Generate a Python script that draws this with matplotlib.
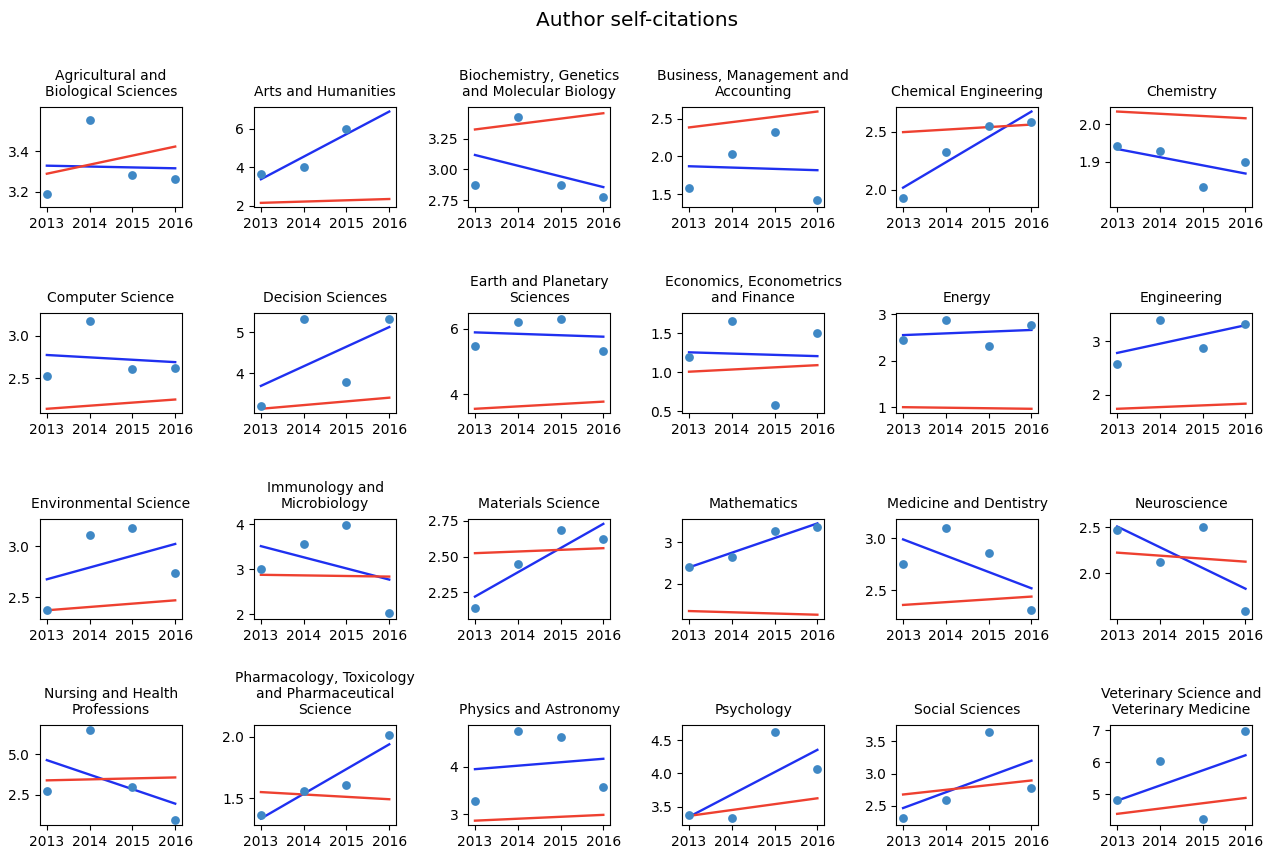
import numpy as np
import matplotlib
matplotlib.use("Agg")
import matplotlib.pyplot as plt

years = [2013, 2014, 2015, 2016]

titles = [
    "Agricultural and\nBiological Sciences", "Arts and Humanities",
    "Biochemistry, Genetics\nand Molecular Biology", "Business, Management and\nAccounting",
    "Chemical Engineering", "Chemistry",
    "Computer Science", "Decision Sciences", "Earth and Planetary\nSciences",
    "Economics, Econometrics\nand Finance", "Energy", "Engineering",
    "Environmental Science", "Immunology and\nMicrobiology", "Materials Science",
    "Mathematics", "Medicine and Dentistry", "Neuroscience",
    "Nursing and Health\nProfessions", "Pharmacology, Toxicology\nand Pharmaceutical\nScience",
    "Physics and Astronomy", "Psychology", "Social Sciences",
    "Veterinary Science and\nVeterinary Medicine",
]

# observed values per field (2013..2016); NaN = missing
values = [
    [3.19, 3.553, 3.285, 3.265],
    [3.66, 4.00, 6.00, np.nan],
    [2.877, 3.427, 2.872, 2.772],
    [1.585, 2.034, 2.330, 1.428],
    [1.932, 2.322, 2.549, 2.584],
    [1.941, 1.929, 1.833, 1.900],
    [2.523, 3.174, 2.61, 2.617],
    [3.22, 5.315, 3.795, 5.315],
    [5.49, 6.21, 6.31, 5.31],
    [1.193, 1.66, 0.576, 1.50],
    [2.457, 2.89, 2.32, 2.77],
    [2.57, 3.406, 2.885, 3.32],
    [2.372, 3.113, 3.183, 2.735],
    [3.00, 3.567, 3.98, 2.035],
    [2.136, 2.45, 2.689, 2.623],
    [2.41, 2.64, 3.283, 3.378],
    [2.751, 3.098, 2.858, 2.311],
    [2.473, 2.12, 2.50, 1.595],
    [2.76, 6.49, 2.98, 0.95],
    [1.362, 1.56, 1.608, 2.015],
    [3.286, 4.741, 4.633, 3.565],
    [3.382, 3.335, 4.618, 4.071],
    [2.315, 2.595, 3.64, 2.78],
    [4.80, 6.03, 4.21, 6.99],
]

# reference (red) trend line: value at 2013 and at 2016
ref_start = [3.29, 2.16, 3.325, 2.386, 2.497, 2.034,
             2.136, 3.14, 3.55, 1.008, 1.00, 1.74,
             2.372, 2.88, 2.524, 1.339, 2.361, 2.226,
             3.39, 1.55, 2.864, 3.363, 2.676, 4.38]
ref_end = [3.424, 2.36, 3.457, 2.597, 2.562, 2.016,
           2.246, 3.41, 3.77, 1.092, 0.965, 1.836,
           2.47, 2.84, 2.559, 1.25, 2.441, 2.128,
           3.57, 1.492, 2.986, 3.627, 2.893, 4.88]

# y tick labels shown on each panel
yticks = [
    [3.2, 3.4], [2, 4, 6], [2.75, 3.00, 3.25], [1.5, 2.0, 2.5], [2.0, 2.5], [1.9, 2.0],
    [2.5, 3.0], [4, 5], [4, 6], [0.5, 1.0, 1.5], [1, 2, 3], [2, 3],
    [2.5, 3.0], [2, 3, 4], [2.25, 2.50, 2.75], [2, 3], [2.5, 3.0], [2.0, 2.5],
    [2.5, 5.0], [1.5, 2.0], [3, 4], [3.5, 4.0, 4.5], [2.5, 3.0, 3.5], [5, 6, 7],
]
ytick_fmt = ["%.1f", "%d", "%.2f", "%.1f", "%.1f", "%.1f",
             "%.1f", "%d", "%d", "%.1f", "%d", "%d",
             "%.1f", "%d", "%.2f", "%d", "%.1f", "%.1f",
             "%.1f", "%.1f", "%d", "%.1f", "%.1f", "%d"]

fig, axes = plt.subplots(4, 6, figsize=(12.74, 8.49), dpi=100)
fig.subplots_adjust(left=0.0314, right=0.983, top=0.874, bottom=0.028,
                    wspace=0.507, hspace=1.05)
fig.text(0.5, 0.976, "Author self-citations", fontsize=14.5, ha="center", va="center")

MS = 40  # marker area (pt^2)
x = np.array(years, dtype=float)
for i, ax in enumerate(axes.flat):
    y = np.array(values[i], dtype=float)
    ok = ~np.isnan(y)
    ax.scatter(x[ok], y[ok], s=MS, color="#3f88c5", zorder=3, linewidths=0)
    coef = np.polyfit(x[ok], y[ok], 1)
    xl = np.array([years[0], years[-1]], dtype=float)
    fit = np.polyval(coef, xl)
    ax.plot(xl, fit, color="#1f30f0", lw=1.7, zorder=2)
    ax.plot(xl, [ref_start[i], ref_end[i]], color="#ee4030", lw=1.7, zorder=2)

    # autoscale like the original: marker extent counted in the data limits
    h_px = ax.get_position().height * fig.get_figheight() * fig.dpi
    r = (np.sqrt(MS) / 2.0) * fig.dpi / 72.0 / h_px
    lo = min(np.nanmin(y[ok]) - r, fit.min(), min(ref_start[i], ref_end[i]))
    hi = max(np.nanmax(y[ok]) + r, fit.max(), max(ref_start[i], ref_end[i]))
    pad = 0.05 * (hi - lo)
    ax.set_ylim(lo - pad, hi + pad)
    ax.set_xlim(years[0] - 0.16, years[-1] + 0.16)

    ax.set_xticks(years)
    ax.set_xticklabels([str(v) for v in years])
    ax.set_yticks(yticks[i])
    ax.set_yticklabels([ytick_fmt[i] % v for v in yticks[i]])
    ax.set_title(titles[i], fontsize=10, linespacing=1.15, pad=8)
    ax.tick_params(labelsize=10)

fig.savefig("out.png", dpi=100)
